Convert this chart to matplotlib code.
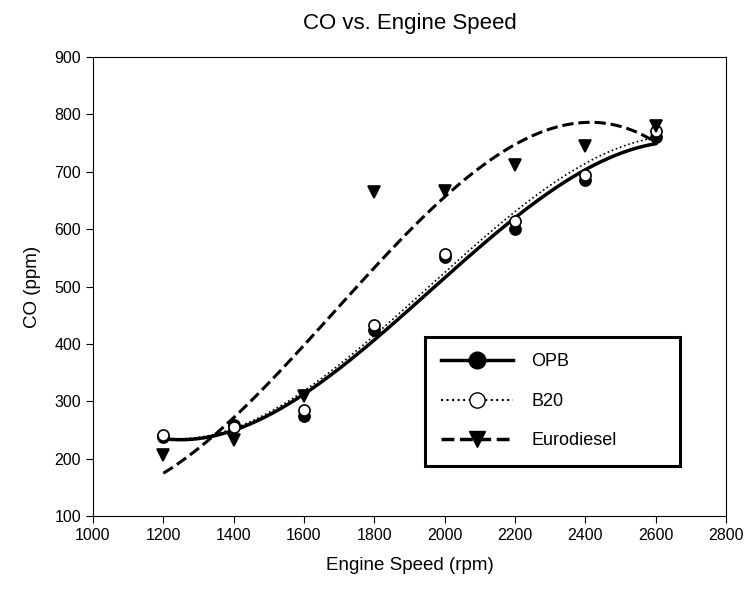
import matplotlib
matplotlib.use("Agg")
import matplotlib.pyplot as plt
from matplotlib.lines import Line2D
import numpy as np

plt.rcParams['font.family'] = ['Liberation Sans', 'DejaVu Sans']

speed = [1200, 1400, 1600, 1800, 2000, 2200, 2400, 2600]
opb = [238, 258, 274, 424, 551, 600, 686, 760]
b20 = [241, 255, 285, 433, 556, 614, 695, 771]
euro = [206, 233, 310, 665, 667, 711, 745, 780]

fig = plt.figure(figsize=(7.48, 5.93), dpi=100)
ax = fig.add_axes([0.1243, 0.1298, 0.8463, 0.7741])

xs = np.linspace(1200, 2600, 200)
fits = [(opb, 'o', 'black', '-', 2.5, 'OPB'),
        (b20, 'o', 'white', ':', 1.2, 'B20'),
        (euro, 'v', 'black', '--', 2.2, 'Eurodiesel')]

# cubic regression lines
for vals, mk, fc, ls, lw, name in fits:
    c = np.polyfit(speed, vals, 3)
    ax.plot(xs, np.polyval(c, xs), color='black', ls=ls, lw=lw, zorder=2)

for vals, mk, fc, ls, lw, name in fits:
    ax.plot(speed, vals, mk, mfc=fc, mec='black', mew=1.2, ms=8, ls='none', zorder=3)

ax.set_xlim(1000, 2800)
ax.set_ylim(100, 900)
ax.set_xticks(range(1000, 2801, 200))
ax.set_yticks(range(100, 901, 100))
ax.tick_params(direction='out', length=5, labelsize=11.5, top=False, right=False)
ax.set_xlabel('Engine Speed (rpm)', fontsize=13.5, labelpad=10)
ax.set_ylabel('CO (ppm)', fontsize=13.5, labelpad=10)
ax.set_title('CO vs. Engine Speed', fontsize=16, pad=20)

handles = [Line2D([], [], color='black', ls='-', lw=2.5, marker='o', ms=12, mfc='black', mec='black'),
           Line2D([], [], color='black', ls=':', lw=1.5, marker='o', ms=11, mfc='white', mec='black'),
           Line2D([], [], color='black', ls='--', lw=2.5, marker='v', ms=12, mfc='black', mec='black')]
leg = ax.legend(handles, ['OPB', 'B20', 'Eurodiesel'], loc='lower left',
                bbox_to_anchor=(0.510, 0.090, 0.431, 0.283), mode='expand',
                fontsize=13, handlelength=4.0, labelspacing=1.25, borderpad=0.9,
                handletextpad=1.0, fancybox=False, framealpha=1, edgecolor='black')
leg.get_frame().set_linewidth(2.2)

fig.savefig('out.png', dpi=100)
